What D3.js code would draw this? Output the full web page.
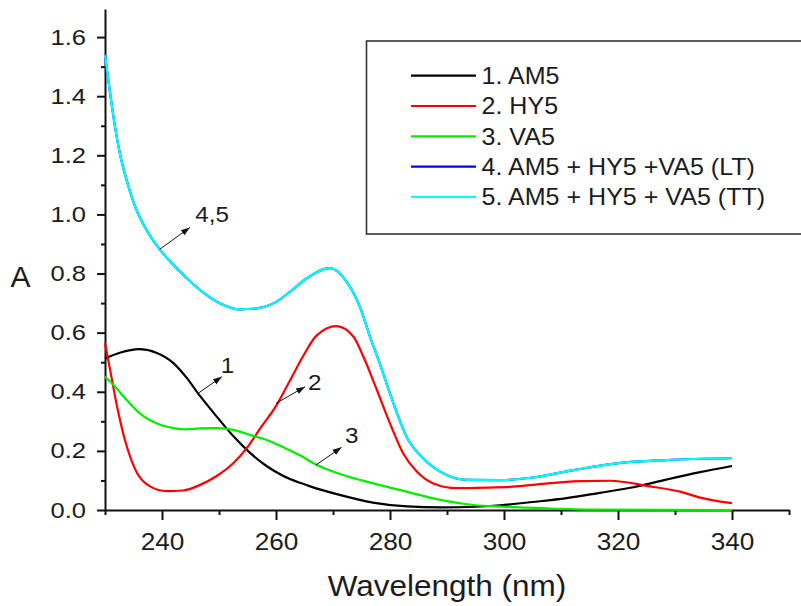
<!DOCTYPE html>
<html>
<head>
<meta charset="utf-8">
<script src="https://cdn.jsdelivr.net/npm/d3@7"></script>
<style>
  body { margin: 0; background: #fff; }
  svg text { font-family: "Liberation Sans", Arial, sans-serif; fill: #1c1c1c; }
</style>
</head>
<body>
<svg id="chart" width="801" height="606"></svg>
<script>
// wavelength (nm), absorbance
const am5 = [[230,0.513],[232.6,0.532],[236,0.544],[239,0.532],[242,0.497],[244.3,0.448],[246.7,0.385],[249.6,0.316],[252.5,0.25],[255.4,0.194],[258.4,0.148],[261.3,0.115],[264.2,0.092],[266,0.080],[271,0.052],[277,0.025],[283,0.012],[289,0.009],[295,0.011],[299.3,0.016],[305,0.027],[311,0.04],[316.8,0.058],[322.7,0.077],[328.5,0.103],[334.4,0.128],[340,0.149]];
const hy5 = [[230,0.564],[230.9,0.474],[232,0.361],[233.5,0.237],[235.6,0.126],[237.9,0.08],[240.8,0.064],[243.7,0.066],[246.7,0.085],[249.6,0.115],[252.5,0.158],[254.9,0.21],[257.2,0.275],[260.1,0.355],[262.5,0.44],[264.8,0.522],[267.1,0.59],[270.6,0.622],[273.6,0.586],[275.3,0.52],[277.7,0.406],[280,0.293],[282.3,0.192],[284.7,0.13],[287.6,0.09],[291.7,0.074],[297.5,0.076],[301,0.078],[305.1,0.085],[313.3,0.098],[318.6,0.099],[325.6,0.08],[330.9,0.062],[334.4,0.042],[340,0.023]];
const va5 = [[230,0.451],[231.5,0.423],[233.8,0.372],[236.1,0.327],[239.1,0.293],[242,0.277],[244.3,0.273],[246.7,0.276],[249.6,0.277],[252.5,0.271],[255.4,0.254],[258.4,0.237],[261.3,0.212],[264.2,0.185],[267.1,0.153],[271.2,0.122],[277.1,0.09],[282.9,0.062],[288.8,0.034],[294.6,0.017],[300,0.011],[308,0.005],[315,0.001],[340,0.0]];
const mixLT = [[230,1.539],[230.9,1.41],[231.75,1.297],[232.6,1.207],[233.8,1.116],[235.3,1.026],[237.3,0.947],[239.6,0.882],[243.2,0.806],[246.7,0.744],[250.2,0.699],[253.7,0.679],[256.6,0.682],[260.1,0.705],[262.5,0.739],[265.4,0.784],[269.5,0.818],[272.4,0.772],[274.7,0.688],[276.5,0.586],[278.2,0.496],[280.6,0.361],[282.9,0.248],[285.8,0.175],[288.8,0.13],[293.5,0.102],[299.3,0.101],[305.1,0.11],[312.2,0.135],[319.8,0.158],[328.5,0.169],[340,0.175]];
const mixTT = [[230,1.539],[230.9,1.41],[231.75,1.297],[232.6,1.207],[233.8,1.116],[235.3,1.026],[237.3,0.947],[239.6,0.882],[243.2,0.806],[246.7,0.744],[250.2,0.699],[253.7,0.679],[256.6,0.682],[260.1,0.705],[262.5,0.739],[265.4,0.784],[269.5,0.818],[272.4,0.772],[274.7,0.688],[276.5,0.586],[278.2,0.496],[280.6,0.361],[282.9,0.248],[285.8,0.175],[288.8,0.13],[293.5,0.102],[299.3,0.101],[305.1,0.11],[312.2,0.135],[319.8,0.158],[328.5,0.169],[340,0.175]];

const seriesNames = ["1. AM5", "2. HY5", "3. VA5", "4. AM5 + HY5 +VA5 (LT)", "5. AM5 + HY5 + VA5 (TT)"];
const seriesColors = ["#000000", "#ff0000", "#00ee00", "#0000ff", "#00ffff"];
const seriesData = [am5, hy5, va5, mixLT, mixTT];

const xTicks = [240, 260, 280, 300, 320, 340];
const xMinor = [230, 250, 270, 290, 310, 330, 350];
const yTicks = [0, 0.2, 0.4, 0.6, 0.8, 1.0, 1.2, 1.4, 1.6];
const yMinor = [0.1, 0.3, 0.5, 0.7, 0.9, 1.1, 1.3, 1.5];

// callouts: label, arrow tail, arrow head, label spot (data coords)
const callouts = [
  { label: "4,5", from: [239.6, 0.882], to: [244.9, 0.956], at: [248.8, 0.975] },
  { label: "1",   from: [246.5, 0.397], to: [250.5, 0.451], at: [251.5, 0.464] },
  { label: "2",   from: [260.0, 0.361], to: [265.1, 0.417], at: [266.8, 0.406] },
  { label: "3",   from: [267.0, 0.152], to: [271.5, 0.212], at: [273.3, 0.228] }
];

const svg = d3.select("#chart");
const x = d3.scaleLinear().domain([230, 350]).range([105, 789]);
const y = d3.scaleLinear().domain([0, 1.695]).range([510, 9]);

const stretch = function (sel, sx) {
  sel.each(function () {
    const t = d3.select(this);
    t.attr("x", (+t.attr("x") || 0) / sx).attr("transform", `scale(${sx},1)`);
  });
};

// minor ticks
svg.append("g").attr("transform", "translate(0,510)")
  .call(d3.axisBottom(x).tickValues(xMinor).tickSize(5).tickFormat("").tickSizeOuter(0))
  .call(g => g.select(".domain").remove());
svg.append("g").attr("transform", "translate(105,0)")
  .call(d3.axisLeft(y).tickValues(yMinor).tickSize(4).tickFormat("").tickSizeOuter(0))
  .call(g => g.select(".domain").remove());

const xAxis = svg.append("g").attr("transform", "translate(0,510)")
  .call(d3.axisBottom(x).tickValues(xTicks).tickSize(10).tickSizeOuter(0));
xAxis.selectAll("text").attr("y", 40).attr("dy", 0).style("font-size", "23px");
stretch(xAxis.selectAll("text"), 1.14);

const yAxis = svg.append("g").attr("transform", "translate(105,0)")
  .call(d3.axisLeft(y).tickValues(yTicks).tickSize(8).tickPadding(11).tickSizeOuter(0).tickFormat(d3.format(".1f")));
yAxis.selectAll("text").style("font-size", "22px");
stretch(yAxis.selectAll("text"), 1.16);

svg.selectAll(".domain, .tick line").attr("stroke", "#111").attr("stroke-width", 2);

// curves
const line = d3.line().x(d => x(d[0])).y(d => y(d[1])).curve(d3.curveMonotoneX);
svg.append("g").selectAll("path").data(seriesData).join("path")
  .attr("d", line)
  .attr("fill", "none")
  .attr("stroke", (d, i) => seriesColors[i])
  .attr("stroke-width", 2.2);

// callout arrows
svg.append("defs").append("marker")
  .attr("id", "head").attr("viewBox", "0 0 10 10")
  .attr("refX", 10).attr("refY", 5)
  .attr("markerWidth", 9).attr("markerHeight", 9).attr("markerUnits", "userSpaceOnUse")
  .attr("orient", "auto")
  .append("path").attr("d", "M0,1.5 L10,5 L0,8.5 Z").attr("fill", "#111");

svg.append("g").selectAll("line").data(callouts).join("line")
  .attr("x1", d => x(d.from[0])).attr("y1", d => y(d.from[1]))
  .attr("x2", d => x(d.to[0])).attr("y2", d => y(d.to[1]))
  .attr("stroke", "#111").attr("stroke-width", 1)
  .attr("marker-end", "url(#head)");

svg.append("g").selectAll("text").data(callouts).join("text")
  .attr("transform", d => `translate(${x(d.at[0])},${y(d.at[1])}) scale(1.1,1)`)
  .attr("text-anchor", "middle")
  .style("font-size", "22px")
  .text(d => d.label);

// legend
const legend = svg.append("g");
legend.append("rect")
  .attr("x", 366.5).attr("y", 41).attr("width", 500).attr("height", 193)
  .attr("fill", "none").attr("stroke", "#333").attr("stroke-width", 1.6);
seriesNames.forEach(function (name, i) {
  const cy = 75.7 + i * 30.3;
  legend.append("line")
    .attr("x1", 411).attr("x2", 476).attr("y1", cy).attr("y2", cy)
    .attr("stroke", seriesColors[i]).attr("stroke-width", 2.2);
  legend.append("text")
    .attr("transform", `translate(481.5,${cy + 8.3}) scale(1.09,1)`)
    .style("font-size", "23px")
    .text(name);
});

// axis titles
svg.append("text")
  .attr("transform", "translate(447,596) scale(1.05,1)")
  .attr("text-anchor", "middle")
  .style("font-size", "30px")
  .text("Wavelength (nm)");
svg.append("text")
  .attr("transform", "translate(20.5,287) scale(1.0,1)")
  .attr("text-anchor", "middle")
  .style("font-size", "30px")
  .text("A");
</script>
</body>
</html>
